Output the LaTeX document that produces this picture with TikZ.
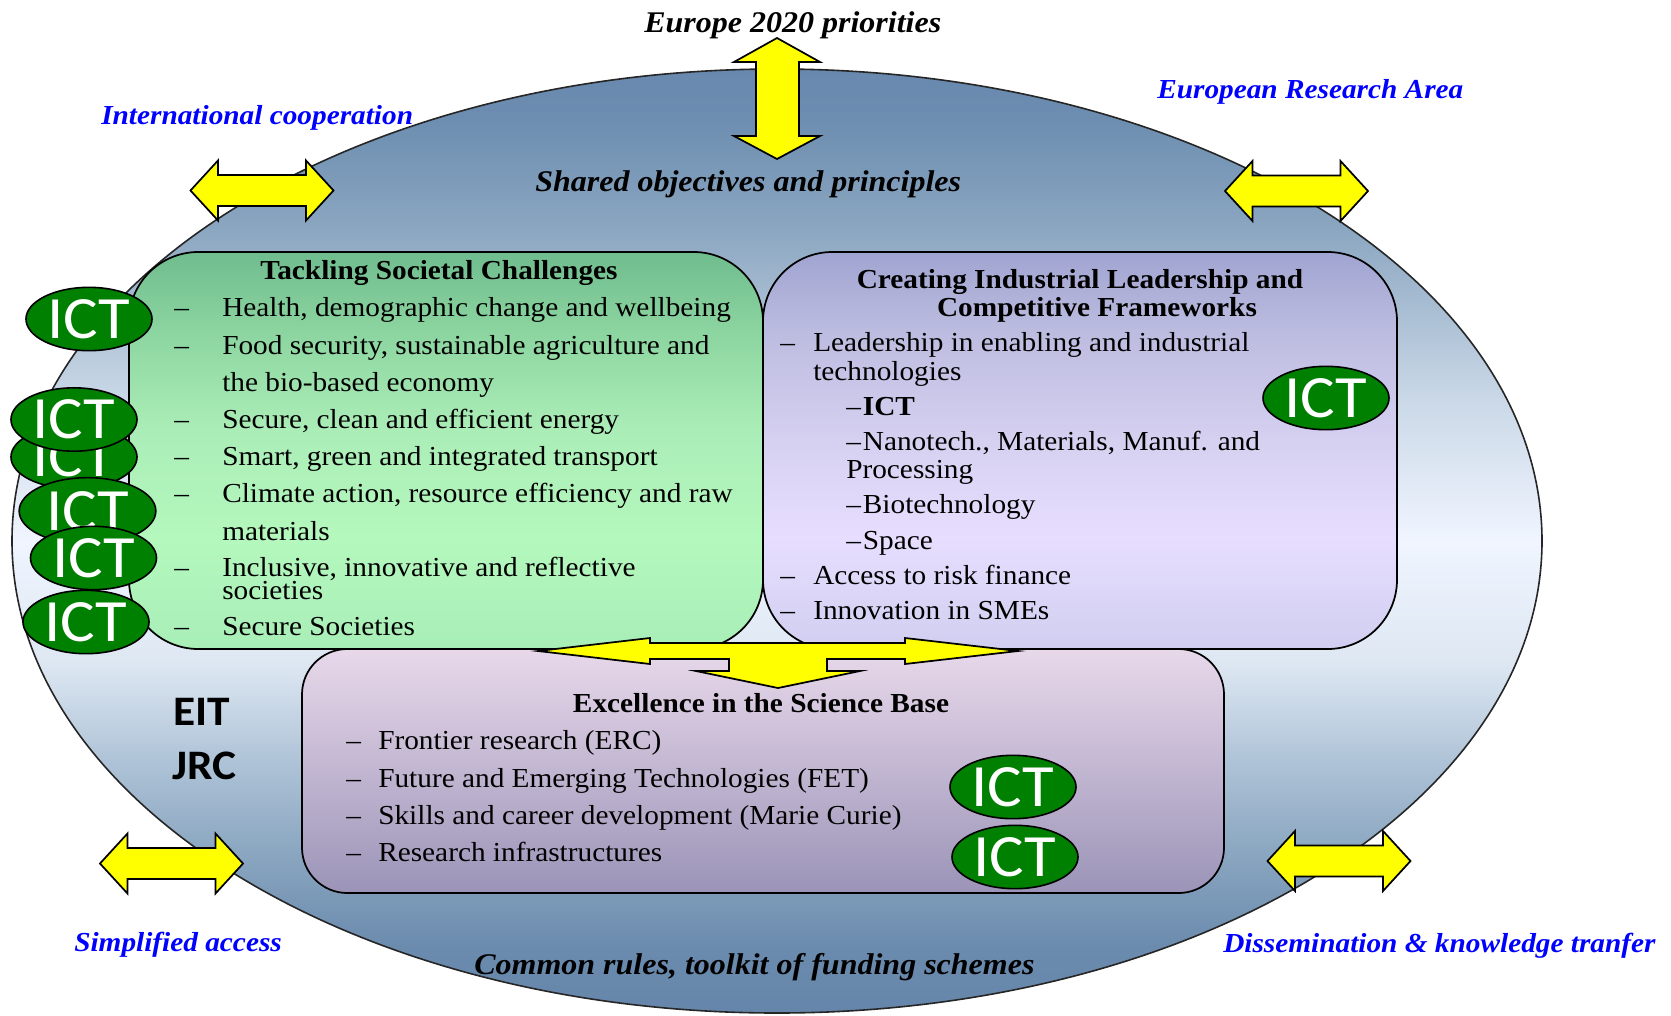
\documentclass[tikz,border=0pt]{standalone}
\usepackage{fontspec}
\setmainfont[FakeStretch=1.067]{Liberation Serif}
\newfontfamily\ictfont[FakeStretch=1.08]{Carlito}
\usetikzlibrary{positioning}
\usetikzlibrary{shapes.geometric}
\definecolor{ictgreen}{HTML}{008000}
\definecolor{labelblue}{HTML}{0000FF}
\definecolor{arrowyellow}{HTML}{FFFF00}
\definecolor{ovalA}{HTML}{6585AA}
\definecolor{ovalB}{HTML}{6B8BAE}
\definecolor{ovalC}{HTML}{8AA6C0}
\definecolor{ovalD}{HTML}{B0C4D8}
\definecolor{ovalE}{HTML}{DDE7F2}
\definecolor{ovalF}{HTML}{F0F5FF}
\definecolor{ovalG}{HTML}{CAD8E7}
\definecolor{ovalH}{HTML}{88A4BF}
\definecolor{ovalI}{HTML}{6C8DB0}
\definecolor{ovalJ}{HTML}{6888AE}
\definecolor{greenA}{HTML}{A8EEB7}
\definecolor{greenB}{HTML}{B4F8BD}
\definecolor{greenC}{HTML}{ABEDB7}
\definecolor{greenD}{HTML}{8CD5A0}
\definecolor{greenE}{HTML}{6FBC8E}
\definecolor{purpleA}{HTML}{D0CEF0}
\definecolor{purpleB}{HTML}{E7DEFF}
\definecolor{purpleC}{HTML}{D8D2F2}
\definecolor{purpleD}{HTML}{BCBCE0}
\definecolor{purpleE}{HTML}{A0A4D0}
\definecolor{pinkA}{HTML}{9B94B8}
\definecolor{pinkB}{HTML}{E8D8EA}
% the path's height is the middle 50bp of these shadings
\pgfdeclareverticalshading{ovalshade}{100bp}{
  color(0bp)=(ovalA); color(25bp)=(ovalA); color(28.5bp)=(ovalB); color(33.5bp)=(ovalC); color(38.5bp)=(ovalD);
  color(43.5bp)=(ovalE); color(50bp)=(ovalF); color(57.5bp)=(ovalG); color(67bp)=(ovalH);
  color(72.5bp)=(ovalI); color(75bp)=(ovalJ); color(100bp)=(ovalJ)}
\pgfdeclareverticalshading{greenshade}{100bp}{
  color(0bp)=(greenA); color(25bp)=(greenA); color(39bp)=(greenB); color(52.5bp)=(greenC); color(65bp)=(greenD);
  color(75bp)=(greenE); color(100bp)=(greenE)}
\pgfdeclareverticalshading{purpleshade}{100bp}{
  color(0bp)=(purpleA); color(25bp)=(purpleA); color(39bp)=(purpleB); color(50bp)=(purpleC); color(65bp)=(purpleD);
  color(75bp)=(purpleE); color(100bp)=(purpleE)}
\pgfdeclareverticalshading{pinkshade}{100bp}{
  color(0bp)=(pinkA); color(25bp)=(pinkA); color(75bp)=(pinkB); color(100bp)=(pinkB)}
\tikzset{
  ictoval/.style={ellipse,draw=black,line width=1.2pt,fill=ictgreen,text=white,inner sep=0pt,
    minimum width=94.5pt,minimum height=47.5pt,font=\ictfont\fontsize{45}{45}\selectfont},
  bodyline/.style={anchor=base west,inner sep=0pt,font=\fontsize{20.6}{24}\selectfont},
  boxtitle/.style={anchor=base,inner sep=0pt,font=\bfseries\fontsize{20.6}{24}\selectfont},
  bluelabel/.style={anchor=base west,inner sep=0pt,text=labelblue,font=\bfseries\itshape\fontsize{20.6}{24}\selectfont},
  blacklabel/.style={anchor=base west,inner sep=0pt,font=\bfseries\itshape\fontsize{22.5}{24}\selectfont},
  sidelabel/.style={anchor=base west,inner sep=0pt,font=\ictfont\bfseries\fontsize{31.5}{32}\selectfont},
  boxframe/.style={draw=black,line width=1.3pt},
  bigarrow/.style={draw=black,line width=1.3pt,fill=arrowyellow,line join=miter}
}
\begin{document}
\begin{tikzpicture}[x=0.75pt,y=-0.75pt]
  \useasboundingbox (0,0) rectangle (1671,1015);

  % draw big oval
  \draw[draw=black!85,line width=1.2pt,shading=ovalshade] (777,541) ellipse (765 and 472);

  % draw the three boxes
  \draw[boxframe,shading=greenshade,rounded corners=52pt] (129,252) rectangle (763,649);
  \draw[boxframe,shading=purpleshade,rounded corners=52pt] (763,252) rectangle (1397,649);
  \draw[boxframe,shading=pinkshade,rounded corners=34pt] (302,649) rectangle (1224,893);

  % draw outer arrows
  \draw[bigarrow] (777,38) -- (820,62) -- (799,62) -- (799,136) -- (820,136) -- (777,159)
    -- (734,136) -- (756,136) -- (756,62) -- (734,62) -- cycle;
  \foreach \cx/\cy in {262/190.5,1296.5/191,171.5/863.5,1339/861}{
    \draw[bigarrow,shift={(\cx,\cy)}] (-71.5,0) -- (-44,-30) -- (-44,-15.5) -- (44,-15.5) -- (44,-30) -- (71.5,0)
      -- (44,30) -- (44,15.5) -- (-44,15.5) -- (-44,30) -- cycle;
  }

  % draw middle arrow
  \draw[bigarrow] (538,651) -- (650,638) -- (650,643) -- (905,643) -- (905,638) -- (1018,651) -- (905,664)
    -- (905,659) -- (827,659) -- (827,671) -- (860,671) -- (778,688) -- (696,671) -- (729,671) -- (729,659)
    -- (650,659) -- (650,664) -- cycle;

  % tackling societal challenges
  \node[boxtitle] (soctitle) at (439,279) {Tackling Societal Challenges};
  \foreach \y/\txt [count=\i] in {316/{Health, demographic change and wellbeing},
      354/{Food security, sustainable agriculture and},
      428/{Secure, clean and efficient energy},
      465.5/{Smart, green and integrated transport},
      502.5/{Climate action, resource efficiency and raw},
      576.5/{Inclusive, innovative and reflective},
      635/{Secure Societies}}{
    \node[bodyline] (socdash\i) at (174,\y) {--};
    \node[bodyline] (socline\i) at (222,\y) {\txt};
  }
  \node[bodyline] (socbio) at (222,391) {the bio-based economy};
  \node[bodyline] (socmat) at (222,540) {materials};
  \node[bodyline] (socsoc) at (222,599) {societies};

  % industrial leadership
  \node[boxtitle] (indtitlea) at (1080,288) {Creating Industrial Leadership and};
  \node[boxtitle] (indtitleb) at (1097,316) {Competitive Frameworks};
  \foreach \y/\txt [count=\i] in {351/{Leadership in enabling and industrial},
      584/{Access to risk finance},
      619/{Innovation in SMEs}}{
    \node[bodyline] (inddash\i) at (780,\y) {--};
    \node[bodyline] (indline\i) at (813,\y) {\txt};
  }
  \node[bodyline] (indtech) at (813,380) {technologies};
  \node[bodyline] (indict) at (846,415) {--\kern1.5pt\textbf{ICT}};
  \node[bodyline] (indnano) at (846,450) {--\kern1.5pt Nanotech., Materials, Manuf. and};
  \node[bodyline] (indproc) at (846,478) {Processing};
  \node[bodyline] (indbio) at (846,513) {--\kern1.5pt Biotechnology};
  \node[bodyline] (indspace) at (846,549) {--\kern1.5pt Space};

  % excellence in the science base
  \node[boxtitle] (scititle) at (761,712) {Excellence in the Science Base};
  \foreach \y/\txt [count=\i] in {749/{Frontier research (ERC)},
      787/{Future and Emerging Technologies (FET)},
      824/{Skills and career development (Marie Curie)},
      861/{Research infrastructures}}{
    \node[bodyline] (scidash\i) at (346,\y) {--};
    \node[bodyline] (sciline\i) at (378,\y) {\txt};
  }

  % draw ICT ovals
  \foreach \cx/\cy [count=\i] in {89/319,74/457,74/419.5}{
    \node[ictoval] (ict\i) at (\cx,\cy) {ICT};
  }
  \node[ictoval,minimum width=102.5pt,minimum height=50pt] (ictwide) at (87.5,511) {ICT};
  \foreach \cx/\cy [count=\i from 4] in {93.5/558,86/622,1326/398,1013/787,1015/857}{
    \node[ictoval] (ict\i) at (\cx,\cy) {ICT};
  }

  % labels round the oval
  \node[blacklabel] (europe) at (644,32) {Europe 2020 priorities};
  \node[blacklabel] (shared) at (535,191) {Shared objectives and principles};
  \node[blacklabel] (common) at (474,974) {Common rules, toolkit of funding schemes};
  \node[bluelabel] (intl) at (101,124) {International cooperation};
  \node[bluelabel] (era) at (1157,98) {European Research Area};
  \node[bluelabel] (simple) at (74,951) {Simplified access};
  \node[bluelabel] (dissem) at (1223,952) {Dissemination \& knowledge tranfer};
  \node[sidelabel] (eit) at (173,725) {EIT};
  \node[sidelabel] (jrc) at (172,779) {JRC};
\end{tikzpicture}
\end{document}
